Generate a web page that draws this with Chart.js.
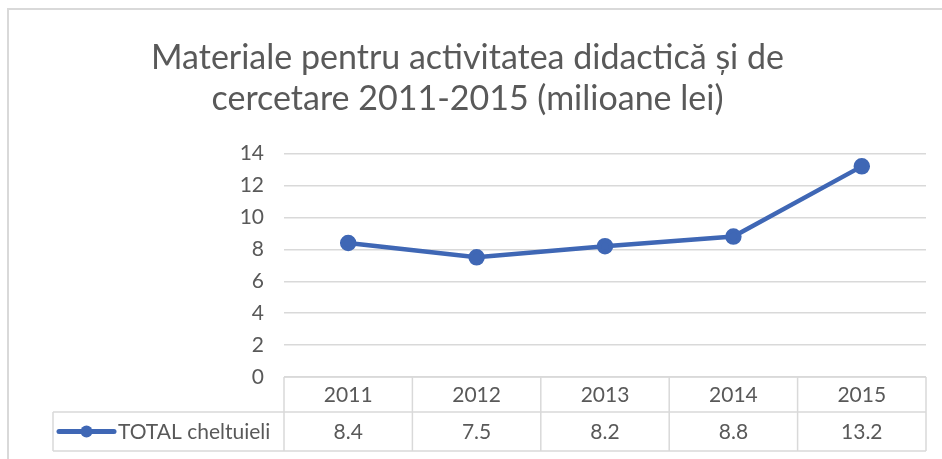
<!DOCTYPE html>
<html>
<head>
<meta charset="utf-8">
<script src="https://cdn.jsdelivr.net/npm/chart.js@4/dist/chart.umd.min.js"></script>
<style>
  html, body { margin: 0; padding: 0; background: #fff; }
  #wrap { position: relative; width: 942px; height: 459px; overflow: hidden; }
  #frame {
    position: absolute; left: 7px; top: 8px; width: 960px; height: 470px;
    border-left: 2px solid #d9d9d9; border-top: 2px solid #d9d9d9;
  }
  #c { position: absolute; left: 0; top: 0; }
</style>
</head>
<body>
<div id="wrap">
  <div id="frame"></div>
  <canvas id="c" width="942" height="459"></canvas>
</div>
<script>
  // date
  const years = ["2011", "2012", "2013", "2014", "2015"];
  const totalCheltuieli = [8.4, 7.5, 8.2, 8.8, 13.2];
  const seriesName = "TOTAL cheltuieli";
  const titleLines = ["Materiale pentru activitatea didactică și de", "cercetare 2011-2015 (milioane lei)"];

  const BLUE = "#3f67b5";
  const GRID = "#d9d9d9";
  const TEXT = "#595959";
  const FONT = "Lato, 'Open Sans', sans-serif";

  // tabelul de date sub grafic (ca in Excel)
  const dataTable = {
    id: "dataTable",
    afterDraw(chart) {
      const ctx = chart.ctx;
      const x = chart.scales.x;
      const area = chart.chartArea;
      const colW = (x.right - x.left) / years.length;
      const row1Top = area.bottom;
      const row1Bot = row1Top + 35;
      const row2Bot = row1Bot + 39;
      const legendLeft = 53;

      ctx.save();
      ctx.strokeStyle = GRID;
      ctx.lineWidth = 1.5;
      ctx.beginPath();
      // linii orizontale
      ctx.moveTo(x.left, row1Top); ctx.lineTo(x.right, row1Top);
      ctx.moveTo(legendLeft, row1Bot); ctx.lineTo(x.right, row1Bot);
      ctx.moveTo(legendLeft, row2Bot); ctx.lineTo(x.right, row2Bot);
      // linii verticale
      ctx.moveTo(legendLeft, row1Bot); ctx.lineTo(legendLeft, row2Bot);
      for (let i = 0; i <= years.length; i++) {
        const lx = x.left + i * colW;
        ctx.moveTo(lx, row1Top); ctx.lineTo(lx, row2Bot);
      }
      ctx.stroke();

      ctx.fillStyle = TEXT;
      ctx.font = "21px " + FONT;
      ctx.textAlign = "center";
      ctx.textBaseline = "middle";
      years.forEach((yr, i) => {
        const cx = x.getPixelForValue(i);
        ctx.fillText(yr, cx, (row1Top + row1Bot) / 2 + 1);
        ctx.fillText(String(totalCheltuieli[i]), cx, (row1Bot + row2Bot) / 2 + 1);
      });

      // legenda in tabel
      const ly = (row1Bot + row2Bot) / 2;
      ctx.strokeStyle = BLUE;
      ctx.lineWidth = 5;
      ctx.lineCap = "round";
      ctx.beginPath();
      ctx.moveTo(59, ly); ctx.lineTo(114, ly);
      ctx.stroke();
      ctx.fillStyle = BLUE;
      ctx.beginPath();
      ctx.arc(86.5, ly, 6, 0, Math.PI * 2);
      ctx.fill();
      ctx.fillStyle = TEXT;
      ctx.textAlign = "left";
      ctx.fillText(seriesName, 118, ly + 1);
      ctx.restore();
    }
  };

  new Chart(document.getElementById("c"), {
    type: "line",
    data: {
      labels: years,
      datasets: [{
        label: seriesName,
        data: totalCheltuieli,
        borderColor: BLUE,
        backgroundColor: BLUE,
        borderWidth: 4.5,
        pointRadius: 6,
        pointBackgroundColor: BLUE,
        pointBorderColor: BLUE,
        tension: 0
      }]
    },
    options: {
      responsive: false,
      animation: false,
      layout: { padding: { left: 9, right: 16, top: 10, bottom: 82 } },
      plugins: {
        legend: { display: false },
        tooltip: { enabled: false },
        title: {
          display: true,
          text: titleLines,
          color: TEXT,
          font: { family: FONT, size: 34, weight: "normal", lineHeight: 1.2 },
          padding: { top: 28, bottom: 34 }
        }
      },
      scales: {
        x: {
          display: false,
          offset: true
        },
        y: {
          min: 0,
          max: 14,
          ticks: {
            stepSize: 2,
            color: TEXT,
            padding: 20,
            font: { family: FONT, size: 21 }
          },
          grid: { color: GRID, lineWidth: 1.5, drawTicks: false },
          border: { display: false },
          afterFit(scale) { scale.width = 275; }
        }
      }
    },
    plugins: [dataTable]
  });
</script>
</body>
</html>
